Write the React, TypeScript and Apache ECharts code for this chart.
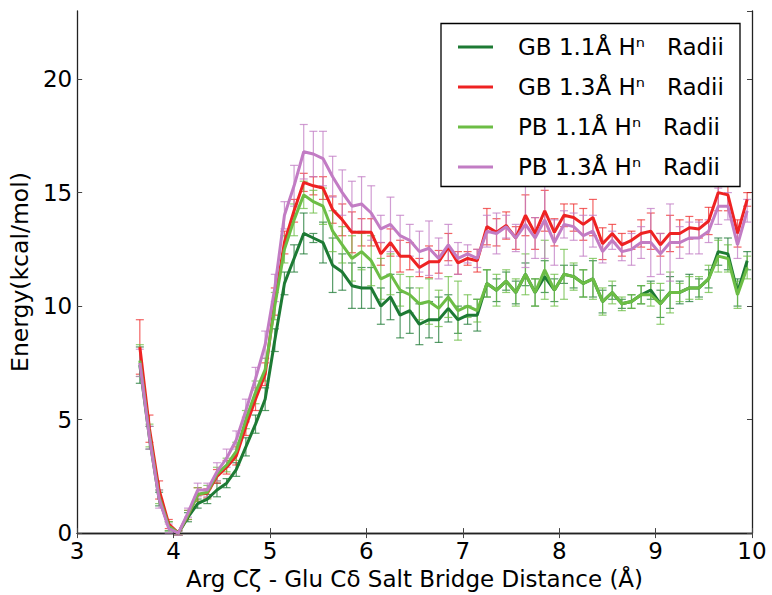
import React, { useEffect, useRef } from "react";
import * as echarts from "echarts";

// x positions (Å)
const distances = [
  3.65, 3.75, 3.85, 3.95, 4.05, 4.15, 4.25, 4.35,
  4.45, 4.55, 4.65, 4.75, 4.85, 4.95, 5.05, 5.15,
  5.25, 5.35, 5.45, 5.55, 5.65, 5.75, 5.85, 5.95,
  6.05, 6.15, 6.25, 6.35, 6.45, 6.55, 6.65, 6.75,
  6.85, 6.95, 7.05, 7.15, 7.25, 7.35, 7.45, 7.55,
  7.65, 7.75, 7.85, 7.95, 8.05, 8.15, 8.25, 8.35,
  8.45, 8.55, 8.65, 8.75, 8.85, 8.95, 9.05, 9.15,
  9.25, 9.35, 9.45, 9.55, 9.65, 9.75, 9.85, 9.95,
];

const gb11 = [
  7.4, 4.2, 1.5, 0.3, 0, 0.7, 1.3, 1.5,
  1.9, 2.2, 2.8, 3.8, 4.8, 5.9, 8.5, 11.0,
  12.1, 13.2, 13.0, 12.8, 11.8, 11.5, 10.9, 10.8,
  10.8, 10.0, 10.4, 9.6, 9.8, 9.2, 9.4, 9.4,
  9.9, 9.4, 9.6, 9.6, 11.0, 10.7, 11.1, 10.6,
  11.4, 10.6, 11.3, 10.7, 11.4, 11.3, 11.0, 11.2,
  10.2, 10.6, 10.1, 10.2, 10.5, 10.7, 10.1, 10.6,
  10.6, 10.8, 10.8, 11.2, 12.4, 12.3, 10.6, 12.0,
];
const gb13 = [
  8.2, 4.6, 1.9, 0.4, 0, 0.8, 1.7, 1.75,
  2.5, 2.9, 3.4, 4.7, 5.9, 7.0, 10.2, 12.8,
  14.2, 15.45, 15.3, 15.2, 14.25, 13.8, 13.25, 13.25,
  13.25, 12.3, 12.8, 12.2, 12.2, 11.7, 11.95, 11.95,
  12.6, 11.9, 12.1, 12.0, 13.5, 13.25, 13.55, 13.0,
  14.0, 13.2, 14.2, 13.25, 14.0, 13.9, 13.6, 13.9,
  12.75, 13.2, 12.7, 12.9, 13.2, 13.3, 12.7, 13.2,
  13.2, 13.45, 13.4, 13.75, 15.0, 14.9, 13.2, 14.7,
];
const pb11 = [
  7.6, 4.3, 1.6, 0.3, 0, 0.8, 1.7, 1.8,
  2.6, 3.0, 3.6, 5.0, 6.2, 7.2, 10.0, 12.5,
  13.8, 14.9, 14.6, 14.4, 13.3, 12.7, 12.1, 12.4,
  12.0, 11.2, 11.4, 10.7, 10.5, 10.1, 10.2, 9.9,
  10.4, 9.8, 10.0, 9.8, 11.0, 10.7, 11.1, 10.6,
  11.4, 10.6, 11.6, 10.7, 11.4, 11.3, 11.0, 11.2,
  10.2, 10.6, 10.1, 10.2, 10.5, 10.5, 10.1, 10.6,
  10.6, 10.8, 10.8, 11.2, 12.2, 12.1, 10.5, 11.7,
];
const pb13 = [
  7.5, 4.2, 1.5, 0.2, 0, 0.9, 1.9, 1.9,
  2.7, 3.3, 4.1, 5.4, 6.8, 8.3, 10.8, 14.0,
  15.3, 16.8, 16.7, 16.5, 15.7, 15.0, 14.4, 14.5,
  14.1, 13.4, 13.6, 13.1, 12.9, 12.4, 12.55, 12.1,
  12.7, 12.1, 12.3, 12.1, 13.3, 13.2, 13.5, 13.0,
  13.6, 13.0, 13.8, 12.8, 13.6, 13.5, 13.1, 13.3,
  12.4, 12.9, 12.4, 12.5, 12.8, 12.8, 12.3, 12.8,
  12.8, 13.0, 13.0, 13.3, 14.4, 14.4, 12.7, 14.2,
];

// error bar half-widths
const errGb11 = [
  0.8, 0.5, 0.3, 0.2, 0.1, 0.2, 0.2, 0.2,
  0.3, 0.2, 0.3, 0.4, 0.4, 0.5, 0.5, 0.5,
  0.6, 0.9, 0.2, 0.9, 1.2, 0.8, 1.0, 0.9,
  0.9, 0.8, 1.0, 1.0, 1.0, 0.9, 0.8, 1.0,
  0.6, 0.6, 0.4, 0.7, 0.6, 0.5, 0.4, 0.5,
  0.5, 0.6, 0.7, 0.5, 0.4, 0.5, 0.6, 0.8,
  0.5, 0.3, 0.2, 0.3, 0.4, 0.4, 0.6, 0.7,
  0.5, 0.6, 0.4, 0.4, 0.6, 0.7, 0.6, 0.4,
];
const errGb13 = [
  1.2, 0.6, 0.4, 0.2, 0.1, 0.2, 0.3, 0.2,
  0.3, 0.3, 0.4, 0.4, 0.5, 0.5, 0.6, 0.5,
  0.5, 0.4, 0.4, 0.5, 0.6, 0.7, 0.9, 0.6,
  0.6, 0.5, 0.6, 0.7, 0.6, 0.4, 0.7, 0.5,
  0.6, 0.5, 0.3, 0.5, 0.8, 0.6, 0.6, 0.5,
  0.9, 0.7, 0.9, 0.6, 0.5, 0.6, 0.7, 0.8,
  0.7, 0.4, 0.5, 0.4, 0.6, 0.8, 0.5, 0.8,
  0.6, 0.5, 0.4, 0.6, 0.8, 0.7, 0.6, 0.3,
];
const errPb11 = [
  0.7, 0.5, 0.3, 0.2, 0.1, 0.2, 0.3, 0.3,
  0.3, 0.3, 0.4, 0.4, 0.5, 0.5, 0.6, 0.6,
  0.7, 0.6, 0.5, 0.8, 0.9, 0.8, 1.0, 0.8,
  1.1, 0.9, 0.9, 0.7, 0.8, 0.7, 1.0, 0.8,
  0.9, 1.3, 0.5, 0.5, 0.6, 0.7, 0.5, 0.6,
  0.9, 0.6, 1.3, 0.7, 1.1, 0.6, 0.6, 0.9,
  0.6, 0.5, 0.3, 0.3, 0.4, 0.5, 0.9, 0.9,
  0.4, 0.5, 0.5, 0.6, 0.7, 0.6, 0.6, 0.5,
];
const errPb13 = [
  0.6, 0.5, 0.4, 0.2, 0.1, 0.2, 0.3, 0.3,
  0.4, 0.4, 0.4, 0.5, 0.5, 0.6, 0.6, 0.6,
  0.9, 1.2, 1.0, 1.2, 0.9, 1.0, 1.1, 1.2,
  1.2, 0.6, 1.2, 0.9, 0.7, 0.9, 1.2, 0.9,
  0.9, 0.7, 0.4, 0.4, 0.7, 0.9, 0.5, 0.6,
  1.9, 0.9, 1.7, 1.0, 0.6, 0.6, 0.9, 0.7,
  0.5, 0.4, 0.4, 0.7, 0.7, 1.5, 0.9, 1.7,
  0.7, 0.7, 0.7, 0.5, 0.8, 0.6, 0.6, 0.5,
];

const NB = "\u00a0";
const seriesNames = [
  `GB 1.1Å Hⁿ${NB}${NB}${NB}Radii`,
  `GB 1.3Å Hⁿ${NB}${NB}${NB}Radii`,
  `PB 1.1Å Hⁿ${NB}${NB}${NB}Radii`,
  `PB 1.3Å Hⁿ${NB}${NB}${NB}Radii`,
];
const seriesValues = [gb11, gb13, pb11, pb13];
const seriesErrors = [errGb11, errGb13, errPb11, errPb13];
const lineColors = ["#1d7a34", "#ee2222", "#6cbd45", "#c27cc4"];
const barColors = ["rgba(29,122,52,0.75)", "rgba(238,34,34,0.7)", "rgba(108,189,69,0.75)", "rgba(194,124,196,0.75)"];

const xAxisTitle = "Arg Cζ - Glu Cδ Salt Bridge Distance (Å)";
const yAxisTitle = "Energy(kcal/mol)";

const FONT = "DejaVu Sans";

export default function App() {
  const ref = useRef<HTMLDivElement>(null);

  useEffect(() => {
    if (!ref.current) return;
    const chart = echarts.init(ref.current, null, { renderer: "svg" });

    const errSeries = seriesValues.map((vals, si) => ({
      type: "custom",
      name: "err" + si,
      xAxisIndex: 0,
      yAxisIndex: 0,
      z: 2,
      silent: true,
      encode: { x: 0, y: [1, 2] },
      data: vals.map((v, i) => [distances[i], v - seriesErrors[si][i], v + seriesErrors[si][i]]),
      renderItem: (params: any, api: any) => {
        const x = api.value(0);
        const lo = api.value(1);
        const hi = api.value(2);
        const p1 = api.coord([x, hi]);
        const p2 = api.coord([x, lo]);
        const w = 4;
        const st = { stroke: barColors[si], lineWidth: 1.2 };
        return {
          type: "group",
          children: [
            { type: "line", shape: { x1: p1[0], y1: p1[1], x2: p2[0], y2: p2[1] }, style: st },
            { type: "line", shape: { x1: p1[0] - w, y1: p1[1], x2: p1[0] + w, y2: p1[1] }, style: st },
            { type: "line", shape: { x1: p2[0] - w, y1: p2[1], x2: p2[0] + w, y2: p2[1] }, style: st },
          ],
        };
      },
    }));

    const lineSeries = seriesValues.map((vals, si) => ({
      type: "line",
      name: seriesNames[si],
      xAxisIndex: 0,
      yAxisIndex: 0,
      z: 3,
      showSymbol: false,
      symbol: "none",
      color: lineColors[si],
      lineStyle: { color: lineColors[si], width: 3 },
      data: vals.map((v, i) => [distances[i], v]),
    }));

    const axisLineStyle = { color: "#222", width: 1.3 };

    chart.setOption({
      animation: false,
      backgroundColor: "#fff",
      grid: { left: 77, right: 20, top: 11, bottom: 61, containLabel: false },
      xAxis: [
        {
          type: "value",
          min: 3,
          max: 10,
          interval: 1,
          position: "bottom",
          name: xAxisTitle,
          nameLocation: "middle",
          nameGap: 30,
          nameTextStyle: { fontFamily: FONT, fontSize: 23, color: "#000" },
          axisLine: { show: true, lineStyle: axisLineStyle },
          axisTick: { show: true, inside: true, length: 5, lineStyle: { color: "#444" } },
          axisLabel: { fontFamily: FONT, fontSize: 23, color: "#000", margin: 6 },
          splitLine: { show: false },
        },
        {
          type: "value",
          min: 3,
          max: 10,
          interval: 1,
          position: "top",
          axisLine: { show: true, lineStyle: axisLineStyle },
          axisTick: { show: true, inside: true, length: 5, lineStyle: { color: "#444" } },
          axisLabel: { show: false },
          splitLine: { show: false },
        },
      ],
      yAxis: [
        {
          type: "value",
          min: 0,
          max: 23,
          interval: 5,
          position: "left",
          name: yAxisTitle,
          nameLocation: "middle",
          nameGap: 41,
          nameTextStyle: { fontFamily: FONT, fontSize: 23.5, color: "#000" },
          axisLine: { show: true, lineStyle: axisLineStyle },
          axisTick: { show: true, inside: true, length: 5, lineStyle: { color: "#444" } },
          axisLabel: { fontFamily: FONT, fontSize: 23, color: "#000", margin: 5, showMaxLabel: false },
          splitLine: { show: false },
        },
        {
          type: "value",
          min: 0,
          max: 23,
          interval: 5,
          position: "right",
          axisLine: { show: true, lineStyle: axisLineStyle },
          axisTick: { show: true, inside: true, length: 5, lineStyle: { color: "#444" } },
          axisLabel: { show: false },
          splitLine: { show: false },
        },
      ],
      legend: {
        data: seriesNames,
        orient: "vertical",
        left: 458,
        top: 34,
        padding: 0,
        itemGap: 14,
        itemWidth: 35,
        itemHeight: 3,
        icon: "rect",
        z: 60,
        selectedMode: false,
        textStyle: { fontFamily: FONT, fontSize: 23, lineHeight: 26, color: "#000", padding: [0, 0, 0, 20] },
      },
      graphic: {
        elements: [
          {
            type: "rect",
            z: 50,
            shape: { x: 441, y: 23.5, width: 299, height: 163 },
            style: { fill: "#fff", stroke: "#000", lineWidth: 1.3 },
          },
        ],
      },
      series: [...errSeries, ...lineSeries],
    });

    return () => chart.dispose();
  }, []);

  return (
    <div
      ref={ref}
      style={{ position: "fixed", left: 0, top: 0, width: 772, height: 595, background: "#fff" }}
    />
  );
}
